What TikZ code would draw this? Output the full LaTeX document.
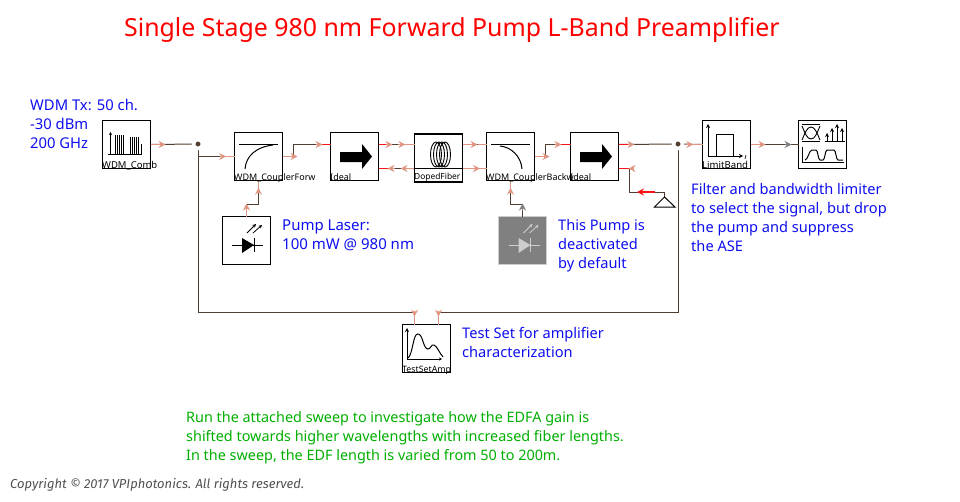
\documentclass[tikz,border=0pt]{standalone}
\usepackage{fontspec}
\setmainfont{Noto Sans}
\newfontfamily\copyfont{Fira Sans}
\usetikzlibrary{arrows.meta,calc,positioning}
\definecolor{wirebrown}{RGB}{82,62,48}
\definecolor{stubsalmon}{RGB}{222,150,130}
\definecolor{portred}{RGB}{250,20,20}
\definecolor{noteblue}{RGB}{15,15,240}
\definecolor{notegreen}{RGB}{0,175,0}
\definecolor{pumpgray}{RGB}{128,128,128}
\definecolor{pumpedge}{RGB}{205,205,205}
\tikzset{
  x=1pt,y=-1pt,
  block/.style={draw=black,line width=1.3pt,fill=white,minimum width=48pt,minimum height=48pt,inner sep=0pt,outer sep=0pt},
  graybox/.style={block,draw=pumpedge,fill=pumpgray},
  blocklabel/.style={anchor=base west,inner sep=0pt,font=\fontsize{#1}{12}\selectfont,text=black},
  note/.style={anchor=north west,inner sep=0pt,align=left,text=noteblue,font=\fontsize{#1}{18.9}\selectfont},
  wire/.style={draw=wirebrown,line width=1pt},
  stub/.style={line width=1.3pt},
  tipped/.style={-{Stealth[length=7pt,width=7pt,inset=2.4pt]}},
  icon/.style={draw=black,line width=1pt},
  dot/.style={circle,fill=wirebrown,draw=white,line width=3.5pt,minimum size=9pt,inner sep=0pt},
}
% out-stub: from a port along a vector, arrow at the far end
\newcommand\portout[3][stubsalmon]{\draw[stub,tipped,draw=#1,fill=#1] (#2) -- ($(#2)+#3$);}
% in-stub: from a port along a vector, arrow near the far end, pointing to the port
\newcommand\portin[3][stubsalmon]{\draw[stub,draw=#1] (#2) -- ($(#2)+#3$);
  \draw[stub,tipped,draw=#1,fill=#1] ($(#2)+1.15*#3$) -- ($(#2)+0.65*#3$);}
\begin{document}
\begin{tikzpicture}
\useasboundingbox (0,0) rectangle (960,501);
\fill[white] (0,0) rectangle (960,501);

% blocks
\node[block] (comb) at (126.5,144.5) {};
\node[block] (cpf) at (258.5,156.5) {};
\node[block] (iso1) at (354.5,156.5) {};
\node[block] (edf) at (438.5,158) {};
\node[block] (cpb) at (510.5,156.5) {};
\node[block] (iso2) at (594.5,156.5) {};
\node[block] (pump) at (246.5,240.5) {};
\node[graybox] (pumpb) at (522.5,240.5) {};
\node[block] (lim) at (726.5,144.5) {};
\node[block] (ana) at (822.5,144.5) {};
\node[block] (tst) at (426.5,348.5) {};

% named ports
\coordinate (isoAwt) at ($(iso1.west)+(0,-12)$);
\coordinate (isoAet) at ($(iso1.east)+(0,-12)$);
\coordinate (isoAeb) at ($(iso1.east)+(0,12)$);
\coordinate (cpbwt) at ($(cpb.west)+(0,-12)$);
\coordinate (cpbwb) at ($(cpb.west)+(0,12)$);
\coordinate (isoBwt) at ($(iso2.west)+(0,-12)$);
\coordinate (isoBet) at ($(iso2.east)+(0,-12)$);
\coordinate (isoBeb) at ($(iso2.east)+(0,12)$);
\coordinate (cpfs) at (cpf.south);
\coordinate (cpbs) at (cpb.south);
\coordinate (pumpn) at (pump.north);
\coordinate (pumpbn) at (pumpb.north);
\coordinate (tstl) at ($(tst.north)+(-12,0)$);
\coordinate (tstr) at ($(tst.north)+(12,0)$);
\coordinate (tstlw) at ($(tstl)+(0,-12)$);
\coordinate (tstrw) at ($(tstr)+(0,-12)$);
\coordinate (jl) at (198,144);
\coordinate (jr) at (678,144);
\coordinate (gnd) at (664.5,197);

% wires
\draw[wire] (comb.east) -- (jl);
\draw[wire] (jl) |- (cpf.west);
\draw[wire] (jl) |- (tstlw);
\draw[wire] (jr) |- (tstrw);
\draw[wire] (cpf.east) -- ++(11,0) |- (isoAwt);
\draw[wire] (isoAet) -- (edf.west |- isoAet);
\draw[wire] (isoAeb) -- (edf.west |- isoAeb);
\draw[wire] (edf.east |- cpbwt) -- (cpbwt);
\draw[wire] (edf.east |- cpbwb) -- (cpbwb);
\draw[wire] (cpb.east) -- ++(11,0) |- (isoBwt);
\draw[wire] (isoBet) -- (jr);
\draw[wire] (jr) -- (lim.west);
\draw[wire] (lim.east) -- (ana.west);
\draw[wire] (isoBeb) -- ++(11,0) |- ($(gnd)+(0,-5)$) -- (gnd);
\draw[wire] (pumpn) -- ++(0,-12) -| (cpfs);
\draw[wire] (pumpbn) -- ++(0,-12) -| (cpbs);

% junctions
\node[dot] (jldot) at (jl) {};
\node[dot] (jrdot) at (jr) {};

% coloured stubs with arrowheads
\portout{comb.east}{(15,0)}
\portin{cpf.west}{(-13,0)}
\portout{cpf.east}{(15,0)}
\draw[stub,draw=portred] (isoAwt) -- ++(-9,0);
\draw[stub,tipped,draw=stubsalmon,fill=stubsalmon] ($(isoAwt)+(-15,0)$) -- ++(7,0);
\draw[stub,draw=portred] (isoAet) -- ++(11,0);
\draw[stub,draw=portred] (isoAeb) -- ++(11,0);
\draw[stub,tipped,draw=stubsalmon,fill=stubsalmon] ($(isoAet)+(7,0)$) -- ++(7,0);
\draw[stub,tipped,draw=stubsalmon,fill=stubsalmon] ($(isoAeb)+(16,0)$) -- ++(-7,0);
\portin{edf.west |- isoAet}{(-14,0)}
\draw[stub,tipped,draw=stubsalmon,fill=stubsalmon] (edf.west |- isoAeb) -- ++(-14,0);
\draw[stub,tipped,draw=stubsalmon,fill=stubsalmon] (edf.east |- cpbwt) -- ++(15,0);
\draw[stub,draw=stubsalmon] (cpbwt) -- ++(-9,0);
\portin{cpbwb}{(-10,0)}
\draw[stub,draw=stubsalmon] (edf.east |- cpbwb) -- (cpbwb);
\portout{cpb.east}{(15,0)}
\draw[stub,draw=portred] (isoBwt) -- ++(-10,0);
\draw[stub,tipped,draw=stubsalmon,fill=stubsalmon] ($(isoBwt)+(-16,0)$) -- ++(7,0);
\draw[stub,draw=portred] (isoBet) -- ++(11,0);
\draw[stub,tipped,draw=stubsalmon,fill=stubsalmon] ($(isoBet)+(9,0)$) -- ++(7,0);
\draw[stub,draw=portred] (isoBeb) -- ++(11,0);
\draw[stub,tipped,draw=stubsalmon,fill=stubsalmon] ($(isoBeb)+(15,0)$) -- ++(-5,0);
\draw[stub,draw=portred] (654.5,192) -- (640,192);
\draw[stub,tipped,draw=portred,fill=portred] (646,192) -- (637,192);
\portin{lim.west}{(-14,0)}
\portout{lim.east}{(15,0)}
\draw[stub,tipped,draw=pumpgray,fill=pumpgray] ($(ana.west)+(-14,0)$) -- ++(7,0);
\portout{pumpn}{(0,-13)}
\portin{cpfs}{(0,11)}
\draw[stub,tipped,draw=pumpgray,fill=pumpgray] ($(pumpbn)+(0,-6)$) -- ++(0,-7);
\portin{cpbs}{(0,11)}
\portin{tstl}{(0,-12)}
\portin{tstr}{(0,-12)}

% ground
\draw[draw=black,line width=1pt] (gnd) -- (654.5,207) -- (675,207) -- cycle;

% icon: comb
\begin{scope}[shift={(102,120)}]
\draw[icon,-{Stealth[length=3pt,width=3pt]}] (8.5,34) -- (8.5,12);
\draw[icon] (6,34) -- (40,34);
\foreach \x in {13,15,17,19,21}{\draw[icon,line width=.9pt] (\x,34) -- (\x,15);}
\foreach \x in {28.7,30.7,32.7,34.7,36.5}{\draw[icon,line width=.9pt] (\x,34) -- (\x,16.5);}
\draw[icon] (39,34) -- (39,24);
\end{scope}
% icon: forward coupler
\begin{scope}[shift={(234,132)}]
\draw[icon] (5,12) -- (44,12);
\draw[icon] (11,37) .. controls (12,24) and (22,15) .. (39,13);
\end{scope}
% icon: isolators
\foreach \n/\ox in {isoa/330,isob/570}{
\begin{scope}[shift={(\ox,132)}]
\fill[black] (10,20) -- (32,20) -- (32,12) -- (42,24.5) -- (32,37) -- (32,30) -- (10,30) -- cycle;
\end{scope}}
% icon: fibre
\draw[draw=black,line width=1pt] (414,168) -- (463,168);
\begin{scope}[shift={(414,134)}]
\foreach \x in {22,25,28,31}{\draw[icon,line width=.9pt] (\x,20.5) ellipse (5.5 and 12.5);}
\end{scope}
% icon: backward coupler
\begin{scope}[shift={(486,132)}]
\draw[icon] (5,12) -- (44,12);
\draw[icon] (36,37) .. controls (35,24) and (25,15) .. (14,14);
\end{scope}
% icon: pumps
\begin{scope}[shift={(222,216)}]
\draw[icon] (10,29) -- (41,29);
\fill[black] (20,22) -- (32,29) -- (20,37) -- cycle;
\draw[icon] (32,22) -- (32,36);
\draw[icon,line width=.8pt,-{Stealth[length=3.5pt,width=3.5pt]}] (25,17) -- (34,8);
\draw[icon,line width=.8pt,-{Stealth[length=3.5pt,width=3.5pt]}] (31,17) -- (40,9);
\end{scope}
\begin{scope}[shift={(498.5,216)}]
\draw[draw=pumpedge,line width=1pt] (10,29) -- (41,29);
\fill[pumpedge] (20,22) -- (32,29) -- (20,37) -- cycle;
\draw[draw=pumpedge,line width=1pt] (32,22) -- (32,36);
\draw[draw=pumpedge,line width=.8pt,-{Stealth[length=3.5pt,width=3.5pt]}] (25,17) -- (34,8);
\draw[draw=pumpedge,line width=.8pt,-{Stealth[length=3.5pt,width=3.5pt]}] (31,17) -- (40,9);
\end{scope}
% icon: limit band
\begin{scope}[shift={(702,120)}]
\draw[icon,{Stealth[length=4pt,width=4pt]}-{Stealth[length=4pt,width=4pt]}] (6,4) -- (6,36) -- (41,36);
\draw[icon] (14,36) -- (14,14) -- (31,14) -- (31,36);
\draw[icon,line width=.7pt] (44,35) -- (43,39);
\end{scope}
% icon: analyser
\begin{scope}[shift={(798,120)}]
\draw[icon] (3.7,4.3) -- (22,4.3);
\draw[icon] (3.7,21.3) -- (22,21.3);
\draw[icon,line width=.9pt] (4,6) .. controls (7,13) and (9,19) .. (13,19) .. controls (17,19) and (19,13) .. (22,6);
\draw[icon,line width=.9pt] (4,20) .. controls (7,13) and (9,7) .. (13,7) .. controls (17,7) and (19,13) .. (22,20);
\draw[icon] (26.5,21.3) -- (47,21.3);
\foreach \x/\t in {29/13,34/8,39/4,44/8}{\draw[icon,line width=.8pt,-{Stealth[length=4pt,width=4pt]}] (\x,21.3) -- (\x,\t);}
\draw[icon] (4,27) -- (4,42) -- (46,42);
\draw[icon] (7,40) .. controls (10,40) and (11,30) .. (14,30) -- (18,30) .. controls (20,30) and (20,40) .. (22,40) -- (25,40) .. controls (27,40) and (27,30) .. (29,30) -- (36,30) .. controls (38,30) and (38,40) .. (40,40) -- (45,40);
\end{scope}
% icon: test set
\begin{scope}[shift={(402,324)}]
\draw[icon,-{Stealth[length=4pt,width=4pt]}] (5,35) -- (5,4);
\draw[icon,-{Stealth[length=3pt,width=3pt]}] (5,35) -- (40,35);
\draw[icon] (6,34) .. controls (11,30) and (11,9) .. (16,10) .. controls (21,10) and (21,25) .. (26,25) .. controls (29,25) and (29,20) .. (32,21) .. controls (35,22) and (38,30) .. (41,33);
\end{scope}

% block labels
\node[blocklabel=9.5] (lcomb) at (102,168) {WDM\_Comb};
\node[blocklabel=9.0] (lcpf) at (234,180) {WDM\_CouplerForw};
\node[blocklabel=9.0] (liso1) at (330,180) {Ideal};
\node[blocklabel=8.4] (ledf) at (414,179.5) {DopedFiber};
\node[blocklabel=9.0] (lcpb) at (486,180) {WDM\_CouplerBackw};
\node[blocklabel=9.0] (liso2) at (570,180) {Ideal};
\node[blocklabel=9.6] (llim) at (702,168) {LimitBand};
\node[blocklabel=8.8] (ltst) at (402,372) {TestSetAmp};

% notes
\node[anchor=north west,inner sep=0pt,text=red,font=\fontsize{24.9}{29}\selectfont] (title) at (124,17) {Single Stage 980 nm Forward Pump L-Band Preamplifier};
\node[note=14.8] (ntx) at (30,99.5) {WDM Tx: 50 ch.\\-30 dBm\\200 GHz};
\node[note=15] (npump) at (282,219.5) {Pump Laser:\\100 mW @ 980 nm};
\node[note=14.6] (npumpb) at (558,219.5) {This Pump is\\deactivated\\by default};
\node[note=14.6] (nfilt) at (691,183.5) {Filter and bandwidth limiter\\to select the signal, but drop\\the pump and suppress\\the ASE};
\node[note=14.6] (ntst) at (462,327.5) {Test Set for amplifier\\characterization};
\node[note=14.4,text=notegreen] (nrun) at (186,411.5) {Run the attached sweep to investigate how the EDFA gain is\\shifted towards higher wavelengths with increased fiber lengths.\\In the sweep, the EDF length is varied from 50 to 200m.};
\node[anchor=north west,inner sep=0pt,text=black!68,font=\fontsize{13}{15}\selectfont\copyfont\itshape] (copy) at (10,478) {Copyright © 2017 VPIphotonics. All rights reserved.};
\end{tikzpicture}
\end{document}
